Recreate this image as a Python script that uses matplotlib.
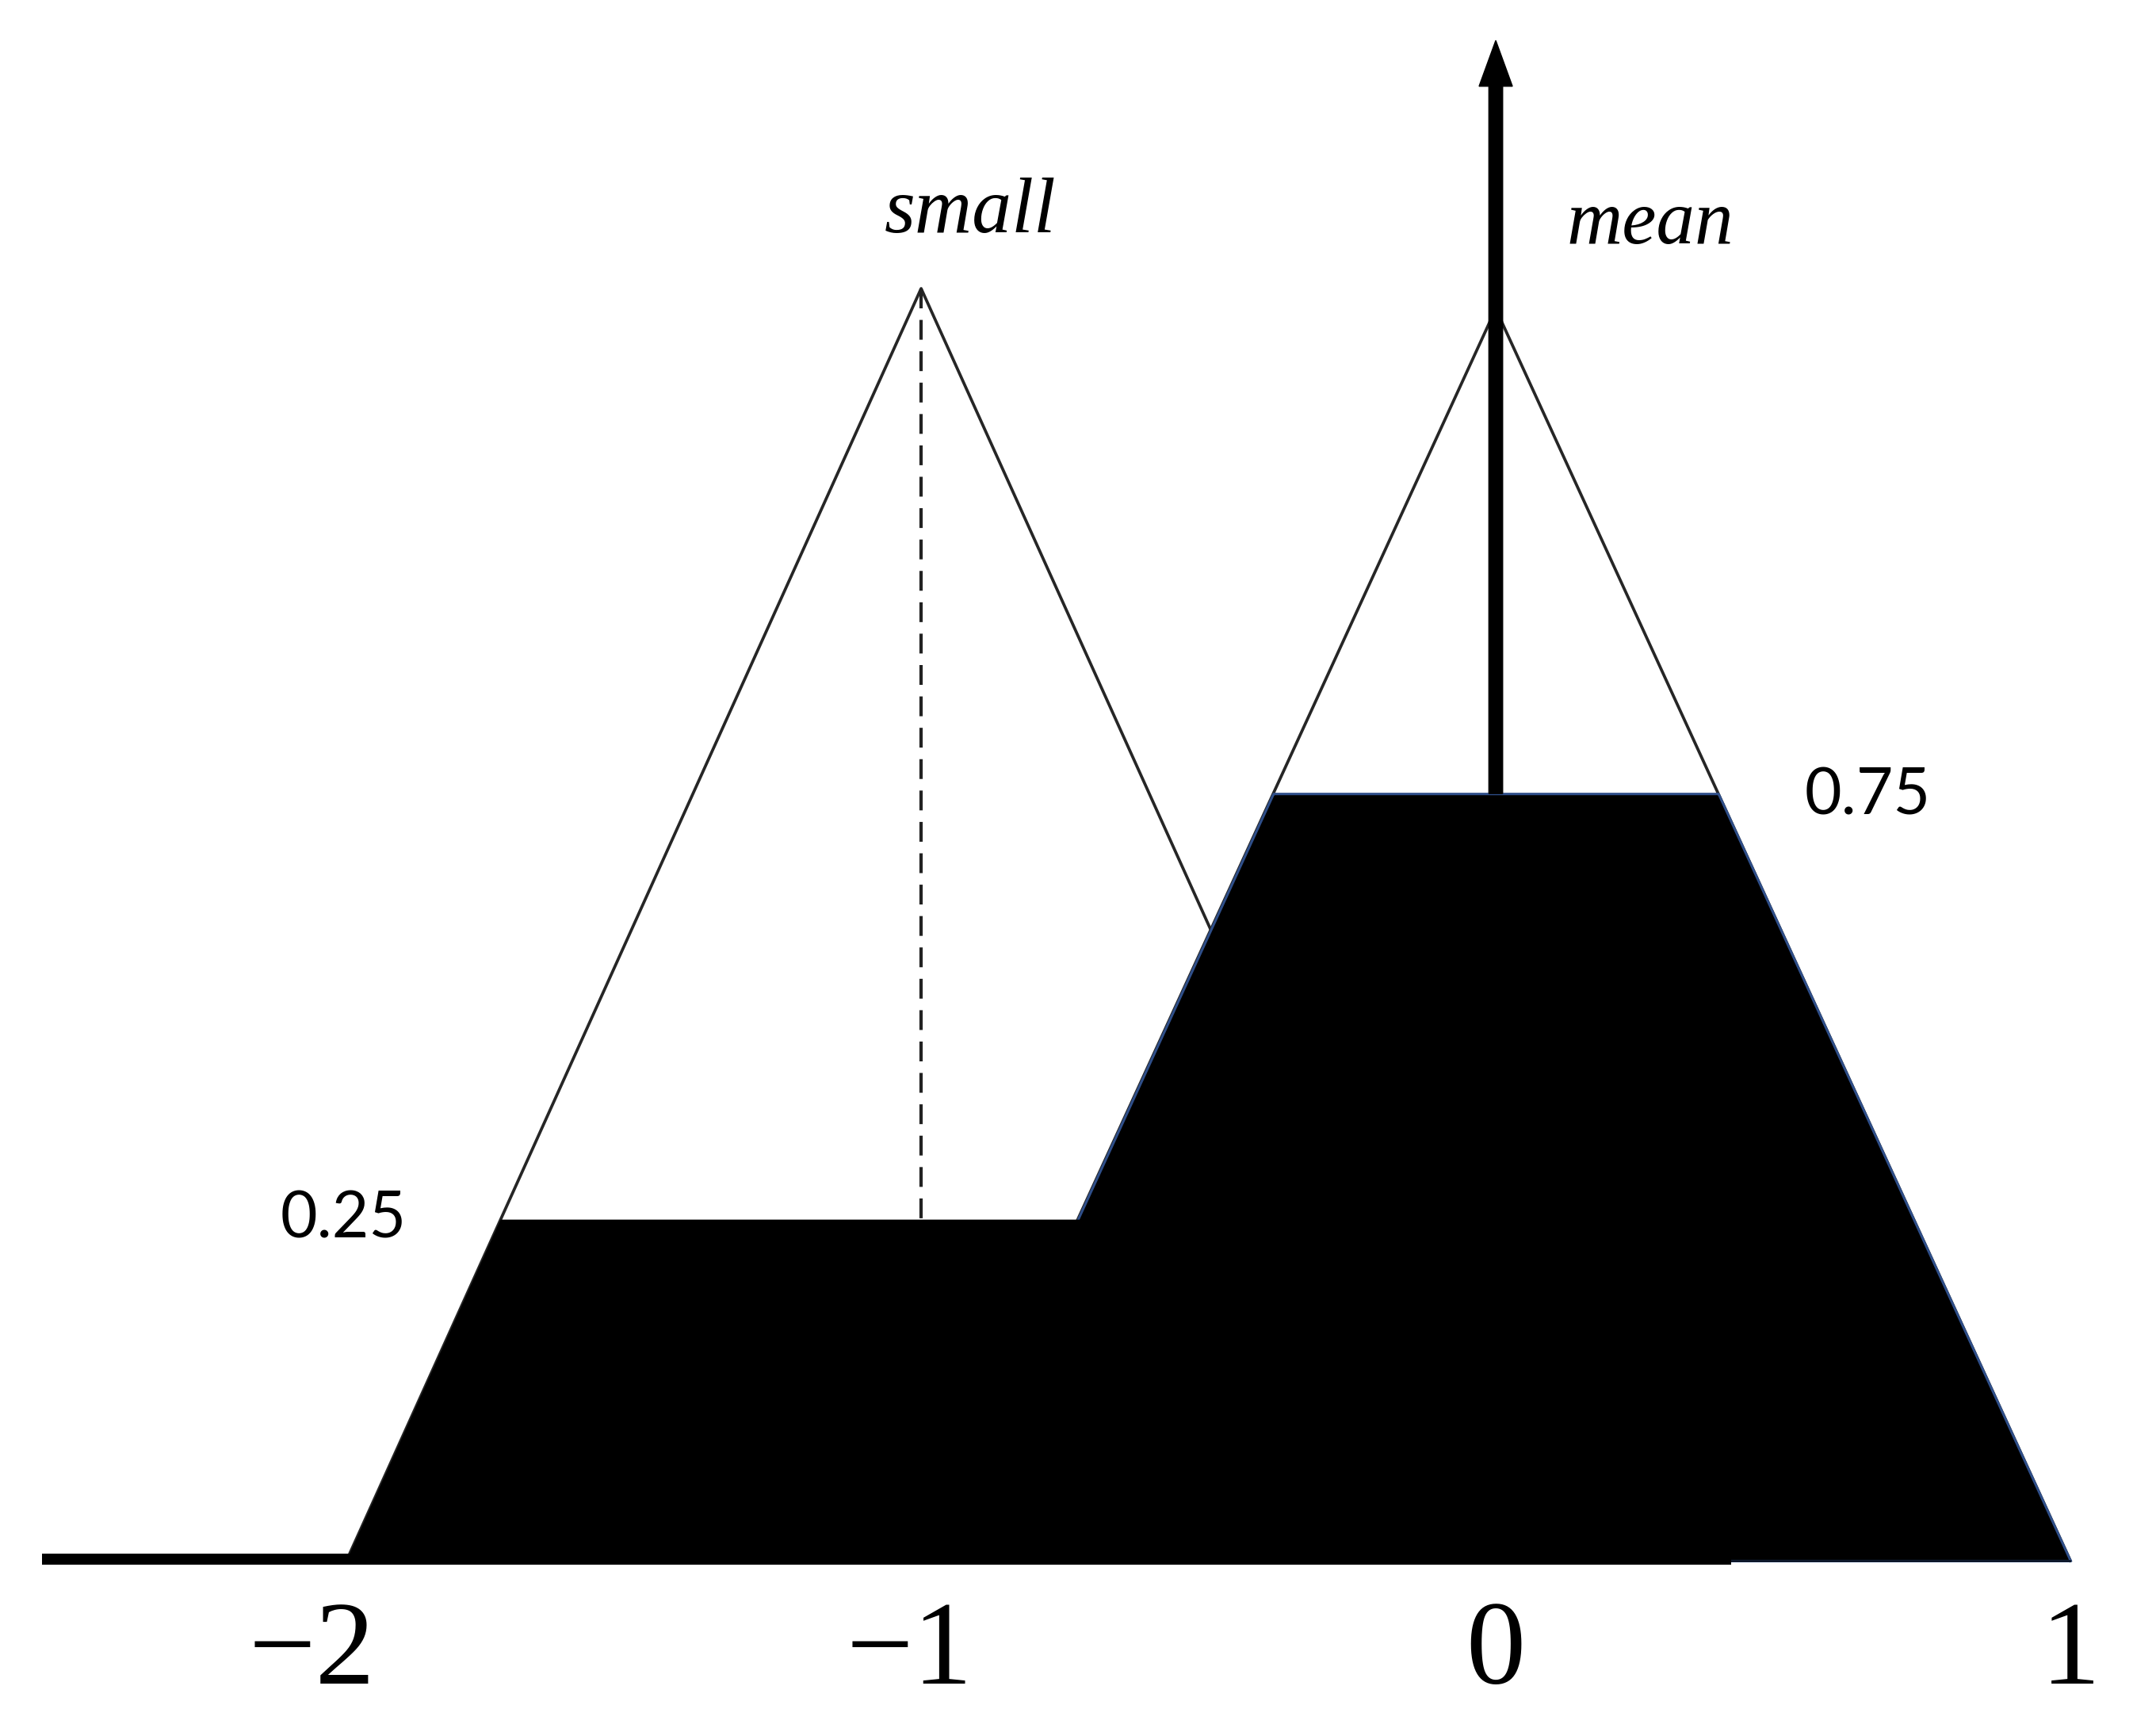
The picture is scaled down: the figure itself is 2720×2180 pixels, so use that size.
import numpy as np
import matplotlib
matplotlib.use("Agg")
import matplotlib.pyplot as plt

# fuzzy sets (triangles)
small_x = [-2.0, -1.0, 0.0]
small_y = [0.0, 1.0, 0.0]
mean_x = [-1.0, 0.0, 1.0]
mean_y = [0.0, 0.984, 0.0]

# cut levels (as drawn) and their labels
cut_small = 0.268
cut_mean = 0.603
cut_labels = ["0.25", "0.75"]

# axis tick labels
tick_pos = [-2.06, -1.02, 0.0, 1.0]
tick_txt = ["\u22122", "\u22121", "0", "1"]

# baseline and output arrow
base_x = [-2.53, 0.41]
arrow_x = 0.0
arrow_top = 1.195

fig = plt.figure(figsize=(27.2, 21.8), dpi=100)
ax = fig.add_axes([0, 0, 1, 1])
ax.set_xlim(-2.603, 1.149)
ax.set_ylim(-0.1315, 1.2268)
ax.axis("off")

# triangle outlines
ax.plot(small_x, small_y, color="#262626", lw=2.7, zorder=1)
ax.plot(mean_x, mean_y, color="#262626", lw=2.7, zorder=1)
ax.plot([small_x[1], small_x[1]], [small_y[1], cut_small], color="#222222",
        lw=3, ls=(0, (6, 3.5)), zorder=1)

# clipped (aggregated) areas
xs = np.linspace(-2, 1, 3001)
m_small = np.minimum(np.interp(xs, small_x, small_y), cut_small)
m_mean = np.minimum(np.interp(xs, mean_x, mean_y), cut_mean)
ax.fill_between(xs, 0, m_mean, facecolor="black", edgecolor="#2f4f8a", lw=2.2, zorder=2)
ax.fill_between(xs, 0, m_small, facecolor="black", edgecolor="black", lw=1, zorder=3)

ax.plot(base_x, [0.001, 0.001], color="black", lw=10, solid_capstyle="butt", zorder=4)

# output arrow
ax.arrow(arrow_x, cut_mean, 0, arrow_top - cut_mean, width=0.024, head_width=0.058,
         head_length=0.036, length_includes_head=True, color="black", zorder=5)

# labels
ax.text(-0.914, 1.059, "small", fontsize=72, family="Liberation Serif", style="italic",
        ha="center", va="center")
ax.text(0.269, 1.050, "mean", fontsize=70, family="Liberation Serif", style="italic",
        ha="center", va="center")
ax.text(-2.006, cut_small, cut_labels[0], fontsize=58, family="Lato", ha="center", va="center")
ax.text(0.647, cut_mean - 0.002, cut_labels[1], fontsize=58, family="Lato", ha="center", va="center")

for p, t in zip(tick_pos, tick_txt):
    ax.text(p, -0.074, t, fontsize=108, family="Liberation Serif", ha="center", va="center")

fig.savefig("out.png", dpi=100)
